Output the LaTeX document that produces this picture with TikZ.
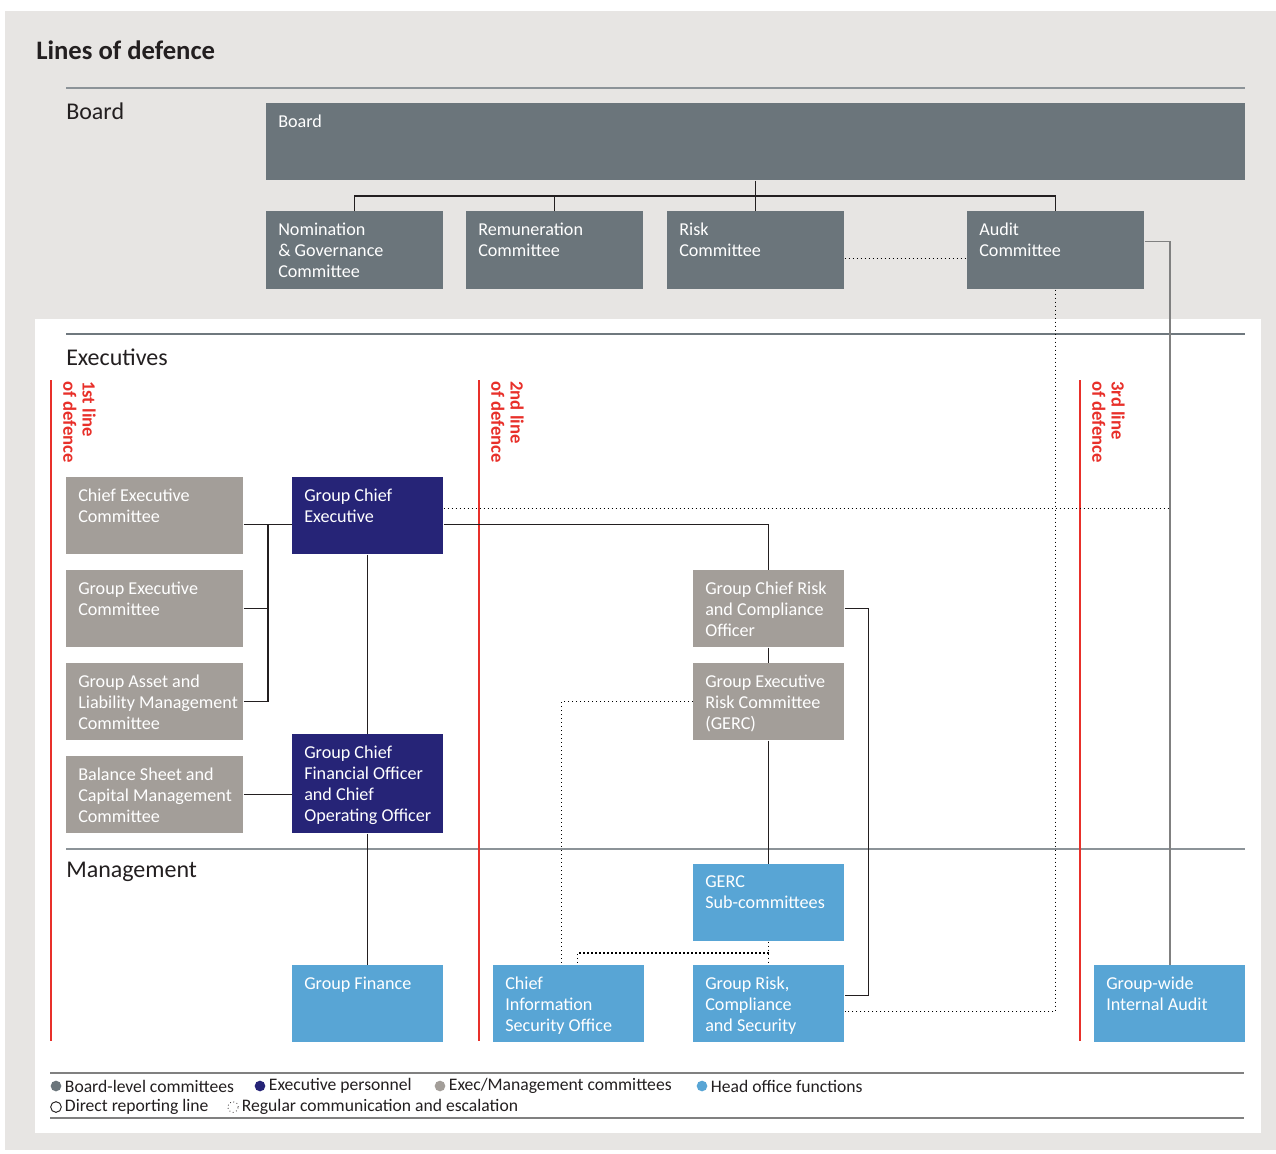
\documentclass[tikz,border=0pt]{standalone}
\usepackage{fontspec}
\setmainfont{Carlito}
\usepackage{tikz}
\definecolor{boardgrey}{HTML}{6B757B}
\definecolor{execnavy}{HTML}{262477}
\definecolor{committeetan}{HTML}{A39E99}
\definecolor{officeblue}{HTML}{58A5D5}
\definecolor{pagegrey}{HTML}{E7E5E3}
\definecolor{defred}{HTML}{E8302A}
\definecolor{rulegrey}{HTML}{6F787E}
\definecolor{inkgrey}{HTML}{231F20}

\begin{document}
\begin{tikzpicture}[x=0.75pt,y=-0.75pt,
    box/.style={anchor=north west,inner sep=0pt,minimum width=113.25pt,minimum height=57.75pt},
    widebox/.style={box,minimum width=132.75pt,minimum height=58.5pt},
    boxtext/.style={anchor=north west,align=left,inner xsep=9pt,inner ysep=8.5pt,text=white,font=\fontsize{13.6}{15.75}\selectfont},
    link/.style={draw=inkgrey,line width=0.8pt},
    talk/.style={draw=black,line width=1pt,dotted},
    defline/.style={draw=defred,line width=0.8pt},
    deflabel/.style={rotate=-90,anchor=north west,align=left,inner sep=0pt,text=defred,font=\bfseries\fontsize{14}{14.5}\selectfont},
    section/.style={anchor=west,inner sep=0pt,text=inkgrey,font=\fontsize{18}{20}\selectfont},
    key/.style={circle,inner sep=0pt,minimum size=8pt},
    keytext/.style={anchor=west,inner sep=2pt,text=inkgrey,font=\fontsize{13.2}{15}\selectfont}]
    \useasboundingbox (0,0) rectangle (1276,1153);
    \fill[pagegrey] (5,11) rectangle (1276,1150);
    \fill[white] (35,319) rectangle (1261,1133);

    \node[anchor=west,inner sep=0pt,text=inkgrey,font=\bfseries\fontsize{20}{22}\selectfont] (ttl) at (36,50) {Lines of defence};
    \draw[draw=rulegrey!80,line width=1pt] (66,88) -- (1245,88); \draw[draw=rulegrey,line width=1pt] (66,334) -- (1245,334); \draw[draw=rulegrey!80,line width=1pt] (66,849) -- (1245,849);
    \node[section] (secb) at (66,111) {Board}; \node[section] (sece) at (66,357) {Executives}; \node[section] (secm) at (66,872) {Management};

    \node[box,fill=boardgrey,minimum width=734.25pt,label={[boxtext]north west:{Board}}] (board) at (266,103) {};
    \node[widebox,fill=boardgrey,label={[boxtext]north west:{Nomination\\\&~Governance\\Committee}}] (nom) at (266,211) {};
    \node[widebox,fill=boardgrey,label={[boxtext]north west:{Remuneration\\Committee}}] (rem) at (466,211) {};
    \node[widebox,fill=boardgrey,label={[boxtext]north west:{Risk\\Committee}}] (risk) at (667,211) {};
    \node[widebox,fill=boardgrey,label={[boxtext]north west:{Audit\\Committee}}] (audit) at (967,211) {};

    \draw[defline] (51,380) -- (51,1041); \draw[defline] (479,380) -- (479,1041); \draw[defline] (1080,380) -- (1080,1041);
    \node[deflabel] (def1) at (96,381) {1st line\\of defence}; \node[deflabel] (def2) at (524,381) {2nd line\\of defence}; \node[deflabel] (def3) at (1125,381) {3rd line\\of defence};

    \node[widebox,fill=committeetan,minimum height=57.75pt,label={[boxtext]north west:{Chief Executive\\Committee}}] (cec) at (66,477) {};
    \node[widebox,fill=committeetan,minimum height=57.75pt,label={[boxtext]north west:{Group Executive\\Committee}}] (gec) at (66,570) {};
    \node[widebox,fill=committeetan,minimum height=57.75pt,label={[boxtext]north west:{Group Asset and\\Liability Management\\Committee}}] (galmc) at (66,663) {};
    \node[widebox,fill=committeetan,minimum height=57.75pt,label={[boxtext]north west:{Balance Sheet and\\Capital Management\\Committee}}] (bscm) at (66,756) {};
    \node[box,fill=execnavy,label={[boxtext]north west:{Group Chief\\Executive}}] (gce) at (292,477) {};
    \node[box,fill=execnavy,minimum height=74.25pt,label={[boxtext]north west:{Group Chief\\Financial Officer\\and Chief\\Operating Officer}}] (gcfo) at (292,734) {};
    \node[box,fill=committeetan,label={[boxtext]north west:{Group Chief Risk\\and Compliance\\Officer}}] (gcro) at (693,570) {};
    \node[box,fill=committeetan,label={[boxtext]north west:{Group Executive\\Risk Committee\\(GERC)}}] (gerc) at (693,663) {};

    \node[box,fill=officeblue,label={[boxtext]north west:{GERC\\Sub-committees}}] (gsub) at (693,864) {};
    \node[box,fill=officeblue,label={[boxtext]north west:{Group Finance}}] (gfin) at (292,965) {};
    \node[box,fill=officeblue,label={[boxtext]north west:{Chief\\Information\\Security Office}}] (ciso) at (493,965) {};
    \node[box,fill=officeblue,label={[boxtext]north west:{Group Risk,\\Compliance\\and Security}}] (grcs) at (693,965) {};
    \node[box,fill=officeblue,label={[boxtext]north west:{Group-wide\\Internal Audit}}] (gia) at (1094,965) {};

    \coordinate (j1) at (268,524); \coordinate (m1) at (768.5,953);
    \draw[link] (board.south) -- (risk.north); \draw[link] (nom.north) -- ++(0,-15) -| (audit.north); \draw[link] (rem.north) -- ++(0,-15);
    \draw[draw=gray,line width=1.1pt] ([yshift=6.75pt]audit.east) -| (gia.north);
    \draw[link] ([yshift=-6.4pt]cec.east) -- ([yshift=-6.4pt]gce.west); \draw[link] (galmc.east) -| (j1); \draw[link] (gec.east) -- (gec.east -| j1);
    \draw[link] (bscm.east) -- (bscm.east -| gcfo.west);
    \draw[link] (gce.south) -- (gcfo.north); \draw[link] (gcfo.south) -- (gfin.north);
    \draw[link] ([yshift=-6.4pt]gce.east) -| (gcro.north);
    \draw[link] (gcro.south) -- (gerc.north); \draw[link] (gerc.south) -- (gsub.north);
    \draw[link] (gcro.east) -- ++(24,0) |- ([yshift=6.4pt]grcs.east);

    \draw[talk] ([yshift=-6pt]risk.east) -- ([yshift=-6pt]audit.west);
    \draw[talk] (audit.south) |- ([yshift=-5.6pt]grcs.east);
    \draw[talk] ([yshift=5.6pt]gce.east) -- ([yshift=5.6pt]gce.east -| gia.north);
    \draw[talk] (gerc.west) -| ([xshift=-5.6pt]ciso.north);
    \draw[talk] (gsub.south) -- (grcs.north); \draw[talk] (m1) -| ([xshift=6.4pt]ciso.north);

    \draw[draw=gray,line width=1pt] (50,1073) -- (1244,1073); \draw[draw=gray,line width=1pt] (50,1118) -- (1244,1118);
    \node[key,fill=boardgrey] (k1) at (56,1086) {}; \node[keytext] (k1t) at (62,1086) {Board-level committees};
    \node[key,fill=execnavy] (k2) at (260,1086) {}; \node[keytext] (k2t) at (266,1086) {Executive personnel};
    \node[key,fill=committeetan] (k3) at (440,1086) {}; \node[keytext] (k3t) at (446,1086) {Exec/Management committees};
    \node[key,fill=officeblue] (k4) at (702,1086) {}; \node[keytext] (k4t) at (708,1086) {Head office functions};
    \node[key,draw=inkgrey,line width=0.7pt] (k5) at (56,1107) {}; \node[keytext] (k5t) at (62,1107) {Direct reporting line};
    \node[key,draw=inkgrey,line width=0.6pt,dotted] (k6) at (233,1107) {}; \node[keytext] (k6t) at (239,1107) {Regular communication and escalation};
\end{tikzpicture}
\end{document}
